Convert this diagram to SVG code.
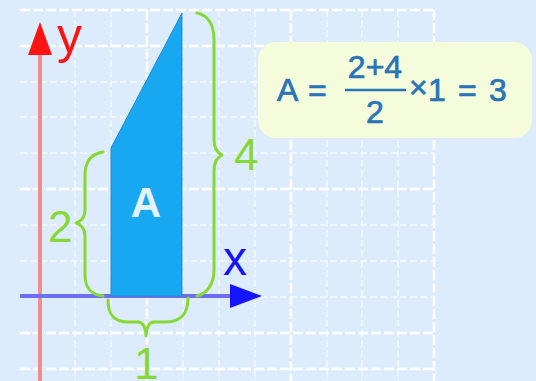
<svg xmlns="http://www.w3.org/2000/svg" width="536" height="381" viewBox="0 0 536 381">
<style>
.minor{stroke:#f4f8fe;stroke-width:1.5;stroke-dasharray:7 3;fill:none}
.major{stroke:#ffffff;stroke-width:2.5;stroke-dasharray:10 3;fill:none}
.brace{stroke:#86d834;stroke-width:3;fill:none;stroke-linecap:round;stroke-linejoin:round}
.glab{fill:#86d834;font-family:"Liberation Sans",Arial,sans-serif;font-size:44px}
.ftxt{fill:#2a74b5;stroke:#2a74b5;stroke-width:0.7;font-family:"Liberation Sans",Arial,sans-serif;font-size:32px}
</style>
<rect width="536" height="381" fill="#ddecfc"/>
<g id="grid">
<path class="minor" d="M75 10V381M111 10V381M183 10V381M219 10V381M255 10V381M327 10V381M362 10V381M398 10V381"/>
<path class="major" d="M147 10V381M291 10V381M434 10V381"/>
<path class="minor" d="M20 82H434M20 117H434M20 153H434M20 225H434M20 261H434M20 297H434"/>
<path class="major" d="M20 10H434M20 46H434M20 189H434M20 333H434M20 369H434"/>
</g>
<g id="axes">
<line x1="40" y1="381" x2="40" y2="50" stroke="#f58c8c" stroke-width="4"/>
<polygon points="40,22 28,55 52,55" fill="#ff1414"/>
<text x="57" y="53" fill="#ff1414" font-family="Liberation Sans,Arial,sans-serif" font-size="50">y</text>
<line x1="20" y1="296" x2="235" y2="296" stroke="#6e6ef2" stroke-width="4"/>
<polygon points="262,296 230,284 230,308" fill="#1414ff"/>
<text x="223" y="275" fill="#1414ff" font-family="Liberation Sans,Arial,sans-serif" font-size="48">x</text>
</g>
<g id="shape">
<polygon points="111,296 111,148 182,13 182,296" fill="#18a8f2" stroke="#2a86c8" stroke-width="1"/>
<text x="146" y="217" text-anchor="middle" fill="#e6f3fc" font-family="Liberation Sans,Arial,sans-serif" font-weight="bold" font-size="42">A</text>
</g>
<g id="braces">
<path class="brace" d="M103 152C90 154 85 162 85 175V210C85 218 80 222 76 223C80 224 85 228 85 236V275C85 288 92 295 103 296"/>
<text class="glab" x="48" y="242">2</text>
<path class="brace" d="M197 13C208 15 214 25 214 40V140C214 148 218 153 222 155C218 157 214 162 214 170V270C214 285 206 294 197 296"/>
<text class="glab" x="234" y="170">4</text>
<path class="brace" d="M108 300C108 315 114 322 128 322H138C143 322 146 328 146 336C146 328 149 322 154 322H166C180 322 188 314 188 298"/>
<text class="glab" x="134" y="379">1</text>
</g>
<g id="formula">
<rect x="258" y="42" width="274" height="96" rx="18" fill="#f4fcdc"/>
<text class="ftxt" x="277" y="101">A</text>
<text class="ftxt" x="308" y="101">=</text>
<text class="ftxt" x="375" y="78" text-anchor="middle">2+4</text>
<line x1="345" y1="90" x2="406" y2="90" stroke="#2a74b5" stroke-width="2.5"/>
<text class="ftxt" x="375" y="123" text-anchor="middle">2</text>
<text class="ftxt" x="409" y="98" font-size="22px">×</text>
<text class="ftxt" x="428" y="101">1</text>
<text class="ftxt" x="458" y="101">=</text>
<text class="ftxt" x="489" y="101">3</text>
</g>
</svg>
